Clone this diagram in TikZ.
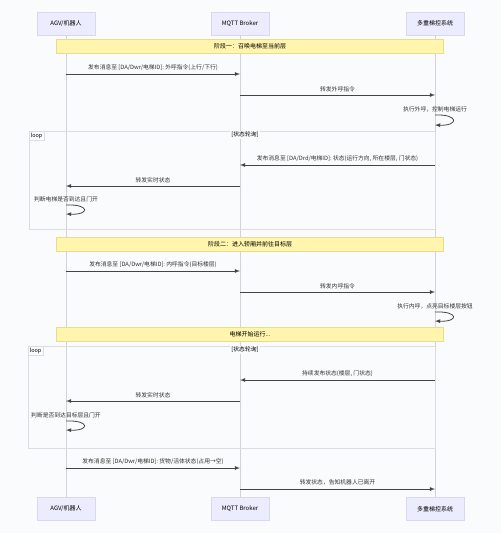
\documentclass[tikz,border=0pt]{standalone}
\usepackage{fontspec}
\setmainfont{Noto Sans CJK SC}
\usepackage{tikz}
\usetikzlibrary{arrows}

\definecolor{actorfill}{HTML}{ECECFF}
\definecolor{actorline}{HTML}{D8D8F2}
\definecolor{notefill}{HTML}{FFF5AD}
\definecolor{noteline}{HTML}{E6DE8C}
\definecolor{lifegray}{HTML}{D2D2DA}
\definecolor{msgline}{HTML}{454545}
\definecolor{loopline}{HTML}{DCDCE2}
\definecolor{paper}{HTML}{FAFBFC}

\begin{document}
\begin{tikzpicture}[x=1pt,y=-1pt,>=latex,
    actor/.style={draw=actorline, fill=actorfill, minimum width=58pt,
                  minimum height=23pt, font=\fontsize{6}{7}\selectfont},
    lifeline/.style={draw=lifegray, line width=0.6pt},
    note/.style={draw=noteline, fill=notefill, minimum width=387pt,
                 minimum height=14pt, inner sep=0pt, font=\fontsize{6}{7}\selectfont},
    msg/.style={->, draw=msgline, line width=0.8pt},
    msg label/.style={above, inner sep=1pt, yshift=2pt, text=black!80,
                      font=\fontsize{5.8}{7}\selectfont},
    loop frame/.style={draw=loopline, line width=0.6pt},
    loop tag/.style={anchor=north west, draw=loopline, fill=paper, inner sep=1.5pt,
                     font=\fontsize{5.5}{6}\selectfont},
    loop cond/.style={fill=paper, inner sep=1pt, font=\fontsize{5.8}{7}\selectfont}]

  \fill[paper] (0,0) rectangle (501,533);
  \useasboundingbox (0,0) rectangle (501,533);

  %Actors%
  \node[actor] (agv)  at (66,23.5)  {AGV/机器人};
  \node[actor] (mqtt) at (240,23.5) {MQTT Broker};
  \node[actor] (lift) at (435,23.5) {多重梯控系统};
  \node[actor] (agvB)  at (66,509)  {AGV/机器人};
  \node[actor] (mqttB) at (240,509) {MQTT Broker};
  \node[actor] (liftB) at (435,509) {多重梯控系统};

  \draw[lifeline] (agv) -- (agvB);
  \draw[lifeline] (mqtt) -- (mqttB);
  \draw[lifeline] (lift) -- (liftB);

  %Rows on the lifelines%
  \foreach \r/\y in {a/74,b/95,c/115,d/125,e/165,f/186,g/205,h/214,
                     i/271,j/292,k/312,l/321,m/380,n/401,o/421,p/430,q/468,r/489}{
    \coordinate (agv-\r)  at (agv |- 0,\y);
    \coordinate (mqtt-\r) at (mqtt |- 0,\y);
    \coordinate (lift-\r) at (lift |- 0,\y);
  }

  %Loop frames%
  \draw[loop frame] (29,131) rectangle (435,229);
  \node[loop tag]  (loop1) at (29,131) {loop};
  \node[loop cond] (cond1) at (245,135) {[状态轮询]};
  \draw[loop frame] (28,346) rectangle (435,448);
  \node[loop tag]  (loop2) at (28,346) {loop};
  \node[loop cond] (cond2) at (245,350) {[状态轮询]};

  %Phase one%
  \node[note] (phase1) at (250,46.5) {阶段一：召唤电梯至当前层};
  \draw[msg] (agv-a) -- node[msg label] {发布消息至 [DA/Dwr/电梯ID]: 外呼指令(上行/下行)} (mqtt-a);
  \draw[msg] (mqtt-b) -- node[msg label] {转发外呼指令} (lift-b);
  \path (lift-c) node[msg label] {执行外呼，控制电梯运行};
  \draw[msg] (lift-c) .. controls +(24,-1) and +(24,1) .. (lift-d);

  \draw[msg] (lift-e) -- node[msg label] {发布消息至 [DA/Drd/电梯ID]: 状态(运行方向, 所在楼层, 门状态)} (mqtt-e);
  \draw[msg] (mqtt-f) -- node[msg label] {转发实时状态} (agv-f);
  \path (agv-g) node[msg label] {判断电梯是否到达且门开};
  \draw[msg] (agv-g) .. controls +(24,-1) and +(24,1) .. (agv-h);

  %Phase two%
  \node[note] (phase2) at (250,244) {阶段二：进入轿厢并前往目标层};
  \draw[msg] (agv-i) -- node[msg label] {发布消息至 [DA/Dwr/电梯ID]: 内呼指令(目标楼层)} (mqtt-i);
  \draw[msg] (mqtt-j) -- node[msg label] {转发内呼指令} (lift-j);
  \path (lift-k) node[msg label] {执行内呼，点亮目标楼层按钮};
  \draw[msg] (lift-k) .. controls +(24,-1) and +(24,1) .. (lift-l);

  \node[note] (phase3) at (250,334) {电梯开始运行...};
  \draw[msg] (lift-m) -- node[msg label] {持续发布状态(楼层, 门状态)} (mqtt-m);
  \draw[msg] (mqtt-n) -- node[msg label] {转发实时状态} (agv-n);
  \path (agv-o) node[msg label] {判断是否到达目标层且门开};
  \draw[msg] (agv-o) .. controls +(24,-1) and +(24,1) .. (agv-p);

  \draw[msg] (agv-q) -- node[msg label] {发布消息至 [DA/Dwr/电梯ID]: 货物/活体状态(占用→空)} (mqtt-q);
  \draw[msg] (mqtt-r) -- node[msg label] {转发状态，告知机器人已离开} (lift-r);
\end{tikzpicture}
\end{document}
